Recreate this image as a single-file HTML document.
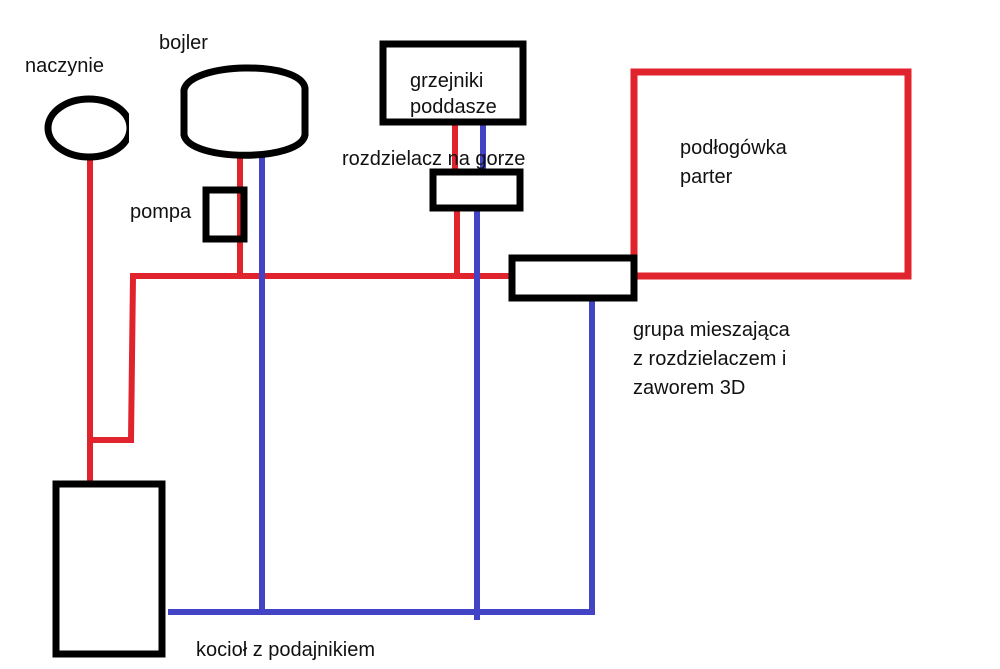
<!DOCTYPE html>
<html><head><meta charset="utf-8"><style>
html,body{margin:0;padding:0;background:#fff;}
svg{display:block}
text{font-family:"Liberation Sans",sans-serif;font-size:20px;fill:#111}
</style></head><body>
<svg width="1000" height="669" viewBox="0 0 1000 669">
<defs><clipPath id="c"><rect x="0" y="0" width="129" height="300"/></clipPath></defs>
<g fill="none" stroke-linecap="butt">
<g stroke="#e0232d" stroke-width="6">
<line x1="90" y1="160" x2="90" y2="483"/>
<polyline points="87,440 131,440 133,276 512,276"/>
<line x1="240" y1="155" x2="240" y2="276"/>
<line x1="455" y1="120" x2="455" y2="172"/>
<line x1="457" y1="205" x2="457" y2="276"/>
<rect x="634" y="72" width="274" height="204" stroke-width="7"/>
</g>
<g stroke="#4343c6" stroke-width="6">
<line x1="262" y1="155" x2="262" y2="615"/>
<line x1="483" y1="120" x2="483" y2="172"/>
<line x1="477" y1="205" x2="477" y2="620"/>
<line x1="592" y1="298" x2="592" y2="615"/>
<line x1="168" y1="612" x2="595" y2="612"/>
</g>
<g stroke="#000" stroke-width="7">
<ellipse cx="89" cy="128" rx="41" ry="29" clip-path="url(#c)"/>
<path d="M184,90 C190,62 300,60 305,88 L305,135 C300,162 190,162 184,135 Z"/>
<rect x="206" y="190" width="38" height="49"/>
<rect x="383" y="44" width="140" height="78"/>
<rect x="433" y="172" width="87" height="36"/>
<rect x="512" y="258" width="122" height="40"/>
<rect x="56" y="484" width="106" height="170"/>
</g>
</g>
<text x="25" y="72">naczynie</text>
<text x="159" y="49">bojler</text>
<text x="130" y="218">pompa</text>
<text x="410" y="87">grzejniki</text>
<text x="410" y="113">poddasze</text>
<text x="342" y="165">rozdzielacz na gorze</text>
<text x="680" y="154">podłogówka</text>
<text x="680" y="183">parter</text>
<text x="633" y="336">grupa mieszająca</text>
<text x="633" y="365">z rozdzielaczem i</text>
<text x="633" y="394">zaworem 3D</text>
<text x="196" y="656">kocioł z podajnikiem</text>
</svg>
</body></html>
